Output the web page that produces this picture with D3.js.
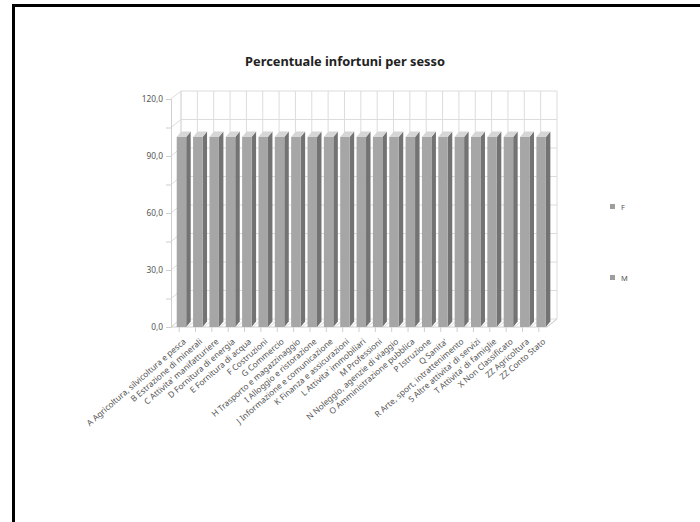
<!DOCTYPE html>
<html><head><meta charset="utf-8">
<script src="https://cdn.jsdelivr.net/npm/d3@7"></script>
<style>body{margin:0;background:#fff}svg{display:block}</style>
</head><body>
<svg id="c" width="700" height="522"></svg>
<script>
const categories = [
  "A Agricoltura, silvicoltura e pesca","B Estrazione di minerali","C Attivita' manifatturiere",
  "D Fornitura di energia","E Fornitura di acqua","F Costruzioni","G Commercio",
  "H Trasporto e magazzinaggio","I Alloggio e ristorazione","J Informazione e comunicazione",
  "K Finanza e assicurazioni","L Attivita' immobiliari","M Professioni","N Noleggio, agenzie di viaggio",
  "O Amministrazione pubblica","P Istruzione","Q Sanita'","R Arte, sport, intrattenimento",
  "S Altre attivita' di servizi","T Attivita' di famiglie","X Non Classificato","ZZ Agricoltura","ZZ Conto Stato"
];
const totals = [100,100,100,100,100,100,100,100,100,100,100,100,100,100,100,100,100,100,100,100,100,100,100];
const seriesNames = ["F","M"];
const yTicks = [0,30,60,90,120];
const gridVals = [0,15,30,45,60,75,90,105,120];

const svg = d3.select("#c");
const fmt = v => d3.format(".1f")(v).replace(".", ",");
const font = "'Noto Sans', 'DejaVu Sans', sans-serif";

// frame
svg.append("rect").attr("x",13.5).attr("y",5.5).attr("width",720).attr("height",540)
  .attr("fill","none").attr("stroke","#000").attr("stroke-width",3);

svg.append("text").attr("x",345).attr("y",66).attr("text-anchor","middle")
  .attr("font-family",font).attr("font-weight","bold").attr("font-size",12.8)
  .attr("fill","#222").text("Percentuale infortuni per sesso");

const x = d3.scaleBand().domain(categories).range([171,547]).padding(0);
const y = d3.scaleLinear().domain([0,120]).range([327,99]);
const DX = 10, DY = -8;
const bw = x.bandwidth();
const g = svg.append("g");
const grid = "#dcdcdc";

gridVals.forEach(v=>{
  g.append("line").attr("x1",171+DX).attr("x2",547+DX).attr("y1",y(v)+DY).attr("y2",y(v)+DY)
    .attr("stroke",grid);
  g.append("line").attr("x1",171).attr("x2",171+DX).attr("y1",y(v)).attr("y2",y(v)+DY)
    .attr("stroke",grid);
});
const bounds = categories.map(c=>x(c)).concat([547]);
bounds.forEach(b=>{
  g.append("line").attr("x1",b+DX).attr("x2",b+DX).attr("y1",y(0)+DY).attr("y2",y(120)+DY).attr("stroke",grid);
  g.append("line").attr("x1",b).attr("x2",b+DX).attr("y1",y(0)).attr("y2",y(0)+DY).attr("stroke",grid);
});
g.append("line").attr("x1",171+DX).attr("x2",171+DX).attr("y1",y(0)+DY).attr("y2",y(120)+DY).attr("stroke",grid);
g.append("line").attr("x1",171).attr("x2",547).attr("y1",y(0)).attr("y2",y(0)).attr("stroke","#d0d0d0");
g.append("line").attr("x1",547).attr("x2",547+DX).attr("y1",y(0)).attr("y2",y(0)+DY).attr("stroke","#d0d0d0");

const bdx = 4.5, bdy = -5.5;
categories.forEach((c,i)=>{
  const x0 = x(c) + bw*0.35, x1 = x(c) + bw*0.93;
  const yt = y(totals[i]), yb = y(0);
  g.append("path").attr("d",`M${x1},${yb}L${x1+bdx},${yb+bdy}L${x1+bdx},${yt+bdy}L${x1},${yt}Z`).attr("fill","#737373");
  g.append("path").attr("d",`M${x0},${yt}L${x0+bdx},${yt+bdy}L${x1+bdx},${yt+bdy}L${x1},${yt}Z`).attr("fill","#d6d6d6");
  g.append("rect").attr("x",x0).attr("y",yt).attr("width",x1-x0).attr("height",yb-yt).attr("fill","#a6a6a6");
});

const yAxis = d3.axisLeft(y).tickValues(gridVals).tickSize(5).tickPadding(3)
  .tickFormat(v => yTicks.includes(v) ? fmt(v) : "");
const ya = svg.append("g").attr("transform","translate(171,0)").call(yAxis);
ya.select(".domain").attr("stroke","#cfcfcf");
ya.selectAll(".tick line").attr("stroke","#cfcfcf");
ya.selectAll("text").attr("font-family",font).attr("font-size",8.3).attr("fill","#555");

const xAxis = d3.axisBottom(x).tickSize(5).tickPadding(2);
const xa = svg.append("g").attr("transform",`translate(0,${y(0)})`).call(xAxis);
xa.select(".domain").remove();
xa.selectAll(".tick line").attr("stroke","#cfcfcf");
xa.selectAll("text").attr("font-family",font).attr("font-size",8.3).attr("fill","#555")
  .attr("text-anchor","end").attr("transform","translate(0,7) rotate(-41)").attr("dy","0.5em");

const legY = [207, 278];
seriesNames.forEach((s,i)=>{
  svg.append("rect").attr("x",610).attr("y",legY[i]-3).attr("width",5).attr("height",5).attr("fill","#9e9e9e");
  svg.append("text").attr("x",621).attr("y",legY[i]+2.5).attr("font-family",font).attr("font-size",7.5)
    .attr("fill","#555").text(s);
});
</script>
</body></html>
